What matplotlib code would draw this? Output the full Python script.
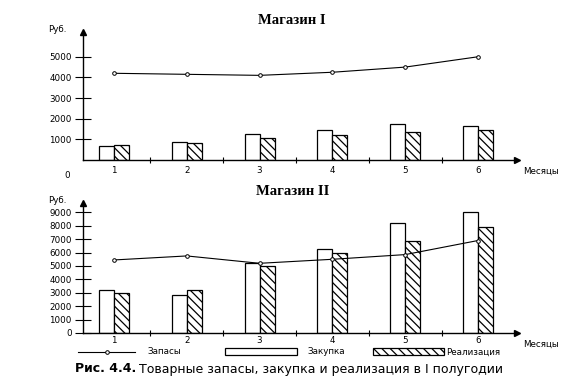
import matplotlib.pyplot as plt
from matplotlib.patches import Rectangle
from matplotlib.lines import Line2D

plt.rcParams['font.family'] = ['DejaVu Sans']
plt.rcParams['hatch.linewidth'] = 0.9

# данные
months = [1, 2, 3, 4, 5, 6]
zakupka_1 = [700, 850, 1250, 1450, 1750, 1650]
realiz_1 = [750, 800, 1050, 1200, 1350, 1450]
zapasy_1 = [4200, 4150, 4100, 4250, 4500, 5000]

zakupka_2 = [3200, 2850, 5200, 6300, 8200, 9050]
realiz_2 = [3000, 3200, 5000, 6000, 6900, 7900]
zapasy_2 = [5450, 5750, 5200, 5500, 5850, 6900]

yticks_1 = [1000, 2000, 3000, 4000, 5000]
yticks_2 = [0, 1000, 2000, 3000, 4000, 5000, 6000, 7000, 8000, 9000]

W, H = 586, 392
FS = 6.3
fig = plt.figure(figsize=(W / 100, H / 100), dpi=100)


def px_axes(x0, y0, x1, y1):
    # оси в пиксельных координатах (сверху вниз)
    return fig.add_axes([x0 / W, 1 - y1 / H, (x1 - x0) / W, (y1 - y0) / H])


def draw_shop(ax, zak, real, zap, yticks, ymax, title, month_pad):
    bw = 0.205
    x_left = [m - bw / 2 for m in months]
    x_right = [m + bw / 2 for m in months]
    ax.bar(x_left, zak, width=bw, color='white', edgecolor='black', linewidth=0.9, zorder=2)
    ax.bar(x_right, real, width=bw, color='white', edgecolor='black', linewidth=0.9,
           hatch='\\\\\\\\', zorder=2)
    ax.plot(months, zap, color='black', linewidth=0.8, marker='o', markersize=2.6,
            markerfacecolor='white', markeredgewidth=0.7, zorder=3)

    ax.set_xlim(0.574, 6.536)
    ax.set_ylim(0, ymax)
    for s in ['top', 'right']:
        ax.spines[s].set_visible(False)
    ax.spines['left'].set_linewidth(1.0)
    ax.spines['bottom'].set_linewidth(1.0)

    ax.set_xticks(months)
    ax.set_xticklabels([str(m) for m in months], fontsize=FS)
    ax.set_xticks([1.5, 2.5, 3.5, 4.5, 5.5], minor=True)
    ax.tick_params(axis='x', which='major', length=0, pad=month_pad)
    ax.tick_params(axis='x', which='minor', length=5, direction='inout', width=0.8)

    ax.set_yticks(yticks)
    ax.set_yticklabels([str(v) for v in yticks], fontsize=FS)
    ax.tick_params(axis='y', length=12, direction='inout', width=0.8, pad=2)

    # стрелки осей
    ax.plot(1, 0, '>', color='black', markersize=4, transform=ax.transAxes, clip_on=False)
    ax.plot(0, 1, '^', color='black', markersize=4, transform=ax.transAxes, clip_on=False)

    ax.text(-0.08, 1.02, 'Руб.', transform=ax.transAxes, fontsize=FS,
            ha='left', va='center')
    ax.text(1.013, -0.05, 'Месяцы', transform=ax.transAxes, fontsize=FS,
            ha='left', va='top')
    ax.set_title(title, fontsize=10.5, fontweight='bold', family='Liberation Serif',
                 pad=6, x=0.482)


ax1 = px_axes(83, 32, 517, 160)
draw_shop(ax1, zakupka_1, realiz_1, zapasy_1, yticks_1, 6200, 'Магазин I', 4)
ax1.text(-0.03, -0.12, '0', transform=ax1.transAxes, fontsize=FS, ha='right', va='center')

ax2 = px_axes(83, 203, 517, 333)
draw_shop(ax2, zakupka_2, realiz_2, zapasy_2, yticks_2, 9700, 'Магазин II', 2)

# легенда в пиксельных координатах
lg = fig.add_axes([0, 0, 1, 1])
lg.set_xlim(0, W)
lg.set_ylim(H, 0)
lg.axis('off')
lg.add_line(Line2D([78, 135], [352, 352], color='black', linewidth=0.8))
lg.plot([107], [352], marker='o', markersize=2.6, markerfacecolor='white',
        markeredgewidth=0.7, color='black')
lg.text(147, 352, 'Запасы', fontsize=FS, va='center')
lg.add_patch(Rectangle((225, 348), 72, 7, facecolor='white', edgecolor='black', linewidth=0.9))
lg.text(307, 352, 'Закупка', fontsize=FS, va='center')
lg.add_patch(Rectangle((373, 348), 71, 7, facecolor='white', edgecolor='black', linewidth=0.9,
                       hatch='\\\\\\\\'))
lg.text(446, 352, 'Реализация', fontsize=FS, va='center')

# подпись рисунка
lg.text(75, 369, 'Рис. 4.4.', fontsize=9, fontweight='bold', va='center')
lg.text(139, 369, 'Товарные запасы, закупка и реализация в I полугодии', fontsize=9,
        va='center')

plt.savefig('out.png', dpi=100)
